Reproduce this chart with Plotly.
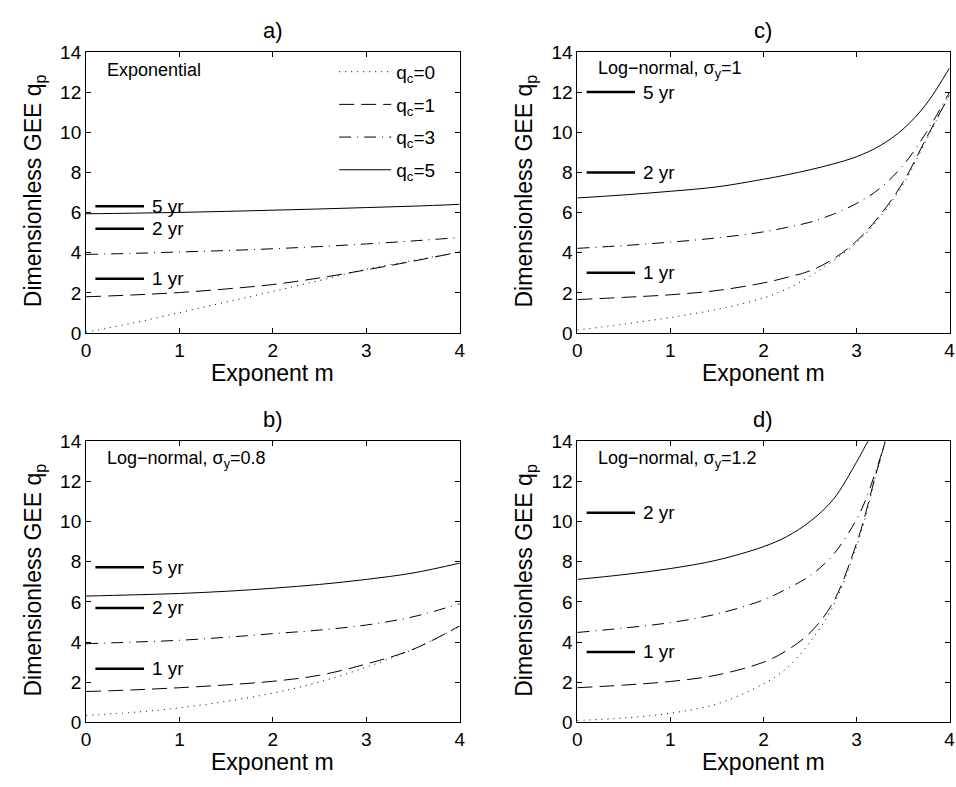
import plotly.graph_objects as go

# ---------------- data ----------------
m_grid = [0.0, 0.5, 1.0, 1.5, 2.0, 2.5, 3.0, 3.5, 4.0]

# Panel a) Exponential
a_q0 = [0.05, 0.5, 1.02, 1.55, 2.08, 2.62, 3.18, 3.62, 4.04]
a_q1 = [1.81, 1.9, 2.02, 2.2, 2.42, 2.75, 3.15, 3.58, 4.04]
a_q3 = [3.92, 3.97, 4.04, 4.11, 4.2, 4.31, 4.44, 4.59, 4.76]
a_q5 = [5.94, 5.97, 6.01, 6.06, 6.12, 6.18, 6.25, 6.32, 6.41]

# Panel b) Log-normal sigma=0.8
b_q0 = [0.35, 0.5, 0.73, 1.05, 1.46, 2.02, 2.75, 3.64, 4.77]
b_q1 = [1.54, 1.62, 1.73, 1.87, 2.05, 2.35, 2.91, 3.64, 4.81]
b_q3 = [3.92, 4.0, 4.09, 4.24, 4.42, 4.6, 4.85, 5.26, 5.91]
b_q5 = [6.29, 6.35, 6.42, 6.53, 6.68, 6.87, 7.12, 7.44, 7.93]

# Panel c) Log-normal sigma=1
c_m = [0.0, 0.5, 1.0, 1.5, 2.0, 2.25, 2.5, 2.75, 3.0, 3.25, 3.5, 3.75, 4.0]
c_q0 = [0.15, 0.45, 0.78, 1.18, 1.75, 2.2, 2.83, 3.6, 4.5, 5.75, 7.4, 9.6, 11.85]
c_q1 = [1.67, 1.78, 1.91, 2.12, 2.5, 2.77, 3.1, 3.69, 4.58, 5.85, 7.5, 9.7, 11.85]
c_q3 = [4.22, 4.36, 4.53, 4.74, 5.04, 5.26, 5.52, 5.92, 6.45, 7.2, 8.35, 9.98, 12.0]
c_q5 = [6.73, 6.88, 7.06, 7.28, 7.66, 7.88, 8.13, 8.42, 8.78, 9.32, 10.15, 11.4, 13.2]

# Panel d) Log-normal sigma=1.2
d_m = [0.0, 0.5, 1.0, 1.5, 2.0, 2.25, 2.5, 2.75, 3.0, 3.1, 3.2, 3.3, 3.4]
d_q0 = [0.1, 0.22, 0.46, 0.92, 1.92, 2.7, 4.0, 5.8, 8.75, 10.28, 12.14, 13.84, 15.8]
d_q1 = [1.73, 1.86, 2.04, 2.36, 3.0, 3.58, 4.46, 5.98, 8.9, 10.44, 12.22, 13.84, 15.8]
d_q3 = [4.48, 4.7, 4.97, 5.4, 6.1, 6.65, 7.3, 8.35, 10.1, 11.1, 12.4, 13.84, 15.8]
d_q5 = [7.12, 7.36, 7.66, 8.08, 8.75, 9.25, 10.0, 11.1, 12.95, 13.8, 14.6, 15.8, 17.5]

series_names = ["q<sub>c</sub>=0", "q<sub>c</sub>=1", "q<sub>c</sub>=3", "q<sub>c</sub>=5"]

# return-period reference levels
a_rp_labels = ["5 yr", "2 yr", "1 yr"]
a_rp_values = [6.31, 5.19, 2.71]
b_rp_labels = ["5 yr", "2 yr", "1 yr"]
b_rp_values = [7.72, 5.70, 2.67]
c_rp_labels = ["5 yr", "2 yr", "1 yr"]
c_rp_values = [12.0, 8.0, 3.0]
d_rp_labels = ["2 yr", "1 yr"]
d_rp_values = [10.44, 3.51]

panel_notes = ["Exponential", "Log\u2212normal, \u03c3<sub>y</sub>=0.8",
               "Log\u2212normal, \u03c3<sub>y</sub>=1", "Log\u2212normal, \u03c3<sub>y</sub>=1.2"]

x_ticks = [0, 1, 2, 3, 4]
y_ticks = [0, 2, 4, 6, 8, 10, 12, 14]

# ---------------- layout constants ----------------
W, H = 956, 787
FONT = "Liberation Sans, Arial, Helvetica, sans-serif"
RP_X0, RP_X1, RP_TX = 0.1, 0.62, 0.68

dashes = ["1px,5px", "15px,7px", "12px,6px,1px,6px", "solid"]

def px2x(p):
    return p / W

def px2y(p):
    return 1 - p / H

# panel pixel boxes: (left, right, top, bottom)
boxes = {
    "a": (82, 460, 43, 332),
    "c": (579, 955.5, 43, 332),
    "b": (82, 460, 443, 732),
    "d": (579, 955.5, 443, 732),
}

panels = [
    ("a", m_grid, [a_q0, a_q1, a_q3, a_q5], a_rp_labels, a_rp_values, "a)", panel_notes[0]),
    ("b", m_grid, [b_q0, b_q1, b_q3, b_q5], b_rp_labels, b_rp_values, "b)", panel_notes[1]),
    ("c", c_m, [c_q0, c_q1, c_q3, c_q5], c_rp_labels, c_rp_values, "c)", panel_notes[2]),
    ("d", d_m, [d_q0, d_q1, d_q3, d_q5], d_rp_labels, d_rp_values, "d)", panel_notes[3]),
]

fig = go.Figure()
annotations = []
layout_axes = {}

for i, (key, mx, ys, rpl, rpv, title, note) in enumerate(panels):
    idx = i + 1
    xa = "x" if idx == 1 else f"x{idx}"
    ya = "y" if idx == 1 else f"y{idx}"
    xname = "xaxis" if idx == 1 else f"xaxis{idx}"
    yname = "yaxis" if idx == 1 else f"yaxis{idx}"
    l, r, t, b = boxes[key]
    axcommon = dict(showline=True, linecolor="black", linewidth=1, mirror="allticks",
                    ticks="inside", ticklen=5, tickwidth=1, tickcolor="black",
                    showgrid=False, zeroline=False,
                    tickfont=dict(family=FONT, size=19, color="black"))
    layout_axes[xname] = dict(domain=[px2x(l), px2x(r)], range=[0, 4], tickvals=x_ticks,
                              anchor=ya, **axcommon)
    layout_axes[yname] = dict(domain=[px2y(b), px2y(t)], range=[0, 14], tickvals=y_ticks,
                              anchor=xa, **axcommon)

    for j, (yy, nm) in enumerate(zip(ys, series_names)):
        fig.add_trace(go.Scatter(
            x=mx, y=yy, mode="lines", name=nm, legendgroup=f"g{j}",
            line=dict(color="black", width=1, dash=dashes[j], shape="spline", smoothing=1.0),
            xaxis=xa, yaxis=ya, showlegend=(key == "a"), hoverinfo="skip"))

    for lab, v in zip(rpl, rpv):
        fig.add_trace(go.Scatter(
            x=[RP_X0, RP_X1], y=[v, v], mode="lines",
            line=dict(color="black", width=2.5), xaxis=xa, yaxis=ya,
            showlegend=False, hoverinfo="skip"))
        annotations.append(dict(x=RP_TX, y=v, xref=xa, yref=ya, text=lab, showarrow=False,
                                xanchor="left", yanchor="middle",
                                font=dict(family=FONT, size=19, color="black")))

    # panel note
    annotations.append(dict(x=0.2, y=13.1, xref=xa, yref=ya, text=note, showarrow=False,
                            xanchor="left", yanchor="middle",
                            font=dict(family=FONT, size=18, color="black")))
    cx = (l + r) / 2 if key in "ab" else (l + 957) / 2 - 1
    # panel title
    annotations.append(dict(x=px2x(cx), y=px2y(t - 22), xref="paper", yref="paper",
                            text=title, showarrow=False, xanchor="center", yanchor="middle",
                            font=dict(family=FONT, size=22, color="black")))
    # x title
    annotations.append(dict(x=px2x(cx), y=px2y(b + 41), xref="paper", yref="paper",
                            text="Exponent m", showarrow=False, xanchor="center", yanchor="middle",
                            font=dict(family=FONT, size=23, color="black")))
    # y title
    annotations.append(dict(x=px2x(l - 52), y=px2y((t + b) / 2 - 2), xref="paper", yref="paper",
                            text="Dimensionless GEE q<sub>p</sub>", showarrow=False,
                            textangle=-90, xanchor="center", yanchor="middle",
                            font=dict(family=FONT, size=23, color="black")))

fig.update_layout(
    width=W, height=H, margin=dict(l=0, r=0, t=0, b=0),
    paper_bgcolor="white", plot_bgcolor="white",
    annotations=annotations,
    showlegend=True,
    legend=dict(x=px2x(333), y=px2y(44), xanchor="left", yanchor="top",
                bgcolor="rgba(0,0,0,0)", borderwidth=0, itemwidth=52,
                traceorder="grouped", tracegroupgap=5,
                font=dict(family=FONT, size=19, color="black")),
    **layout_axes,
)

fig.write_html("out.html")
